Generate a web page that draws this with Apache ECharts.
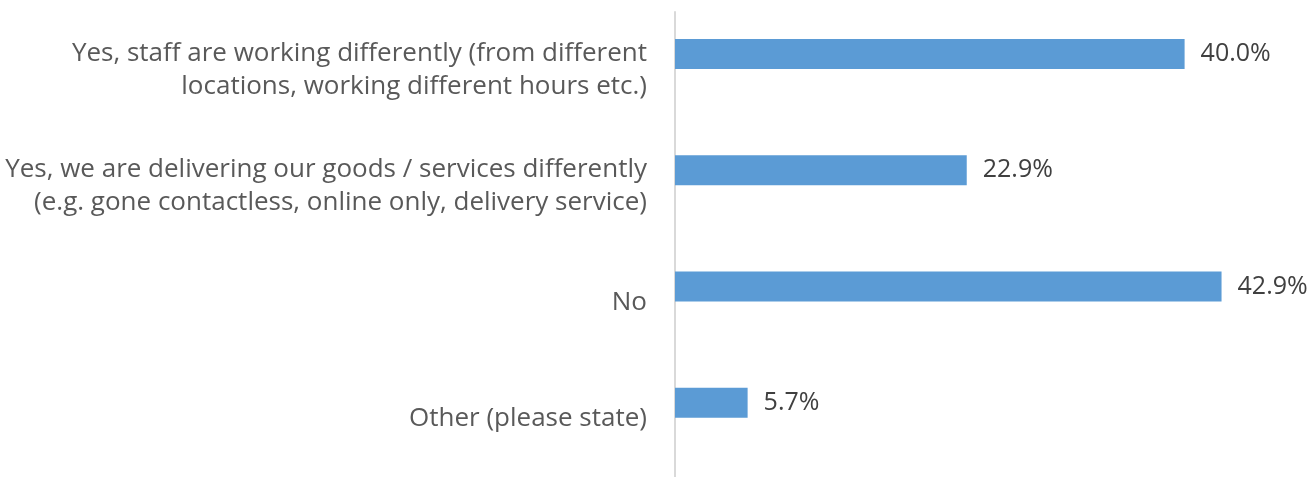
<!DOCTYPE html>
<html>
<head>
<meta charset="utf-8">
<script src="https://cdn.jsdelivr.net/npm/echarts@6/dist/echarts.min.js"></script>
<style>
    html, body { margin: 0; padding: 0; background: #fff; }
    #chart { width: 1314px; height: 477px; }
</style>
</head>
<body>
<div id="chart"></div>
<script>
    var categories = [
        'Yes, staff are working differently (from different\nlocations, working different hours etc.)',
        'Yes, we are delivering our goods / services differently\n(e.g. gone contactless, online only, delivery service)',
        'No',
        'Other (please state)'
    ];
    var values = [40.0, 22.9, 42.9, 5.7];

    var chart = echarts.init(document.getElementById('chart'));

    chart.setOption({
        animation: false,
        textStyle: { fontFamily: 'Open Sans' },
        grid: {
            left: 675,
            right: 2,
            top: 12,
            height: 471
        },
        xAxis: {
            type: 'value',
            min: 0,
            max: 50,
            show: false
        },
        yAxis: {
            type: 'category',
            data: categories,
            inverse: true,
            axisLine: { lineStyle: { color: '#d9d9d9', width: 2 } },
            axisTick: { show: false },
            axisLabel: {
                margin: 28,
                color: '#595959',
                fontSize: 26,
                lineHeight: 33,
                padding: [6, 0, 0, 0],
                align: 'right'
            }
        },
        series: [{
            type: 'bar',
            data: values,
            barWidth: 30,
            barGap: '7%',
            itemStyle: { color: '#5b9bd5' },
            label: {
                show: true,
                position: 'right',
                distance: 16,
                color: '#404040',
                fontSize: 25,
                formatter: function (p) { return p.value.toFixed(1) + '%'; }
            }
        }, {
            // empty slot, keeps the bars above the band centre like the original
            type: 'bar',
            data: [],
            barWidth: 30
        }]
    });
</script>
</body>
</html>
